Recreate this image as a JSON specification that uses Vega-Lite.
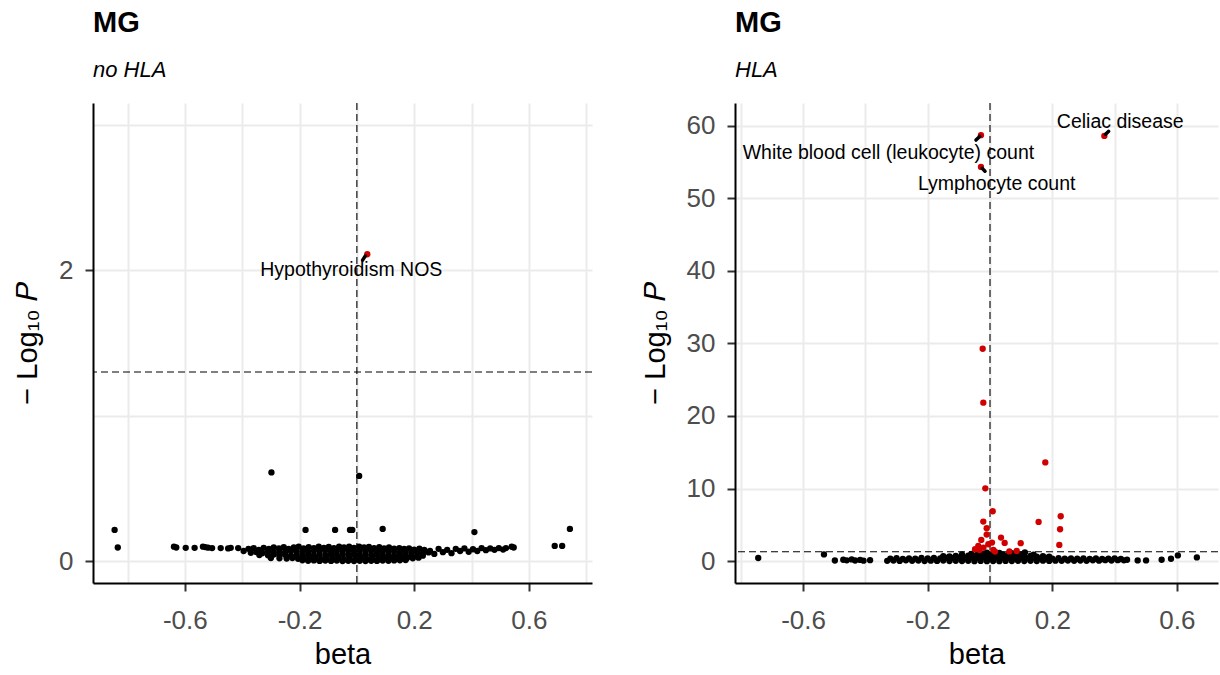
{
"$schema": "https://vega.github.io/schema/vega-lite/v6.json",
"padding": {"left": 13, "top": 9, "right": 0, "bottom": 0},
"spacing": 48,
"config": {
 "font": "Liberation Sans",
 "view": {"stroke": null},
 "title": {"anchor": "start", "frame": "group", "fontSize": 29, "fontWeight": "bold", "color": "black", "subtitleFontSize": 22, "subtitleFontStyle": "italic", "subtitleColor": "black", "subtitlePadding": 22, "offset": 21, "font": "Liberation Sans", "subtitleFont": "Liberation Sans"},
 "axis": {"domainColor": "black", "domainWidth": 2, "tickColor": "#333333", "tickWidth": 2, "tickSize": 8, "labelFontSize": 26, "labelColor": "#4D4D4D", "labelFont": "Liberation Sans", "titleFont": "Liberation Sans", "titleFontSize": 29, "titleFontWeight": "normal", "titleColor": "black", "gridColor": "#EBEBEB", "gridWidth": 2, "grid": true},
 "axisX": {"labelPadding": 16, "titlePadding": 7},
 "axisY": {"labelPadding": 12, "titlePadding": 16}
},
"datasets": {
 "L": [
  {"b":-0.845,"p":0.215,"g":"n"},{"b":-0.834,"p":0.094,"g":"n"},{"b":-0.298,"p":0.61,"g":"n"},{"b":0.008,"p":0.586,"g":"n"},{"b":-0.179,"p":0.215,"g":"n"},{"b":-0.076,"p":0.215,"g":"n"},{"b":-0.024,"p":0.215,"g":"n"},{"b":-0.016,"p":0.215,"g":"n"},{"b":0.09,"p":0.222,"g":"n"},{"b":0.41,"p":0.2,"g":"n"},{"b":0.743,"p":0.222,"g":"n"},{"b":0.69,"p":0.105,"g":"n"},{"b":0.716,"p":0.105,"g":"n"},{"b":0.547,"p":0.094,"g":"n"},{"b":0.54,"p":0.1,"g":"n"},
  {"b":-0.638,"p":0.1,"g":"n"},{"b":-0.63,"p":0.094,"g":"n"},{"b":-0.597,"p":0.092,"g":"n"},{"b":-0.566,"p":0.092,"g":"n"},{"b":-0.537,"p":0.1,"g":"n"},{"b":-0.529,"p":0.097,"g":"n"},{"b":-0.519,"p":0.093,"g":"n"},{"b":-0.505,"p":0.09,"g":"n"},{"b":-0.475,"p":0.09,"g":"n"},{"b":-0.449,"p":0.088,"g":"n"},{"b":-0.44,"p":0.092,"g":"n"},{"b":-0.414,"p":0.09,"g":"n"},
  {"b":-0.395,"p":0.07,"g":"n"},{"b":-0.378,"p":0.085,"g":"n"},{"b":-0.36,"p":0.09,"g":"n"},{"b":-0.342,"p":0.078,"g":"n"},{"b":-0.325,"p":0.092,"g":"n"},{"b":-0.307,"p":0.084,"g":"n"},{"b":-0.29,"p":0.095,"g":"n"},{"b":-0.272,"p":0.088,"g":"n"},{"b":-0.255,"p":0.096,"g":"n"},{"b":-0.238,"p":0.084,"g":"n"},{"b":-0.22,"p":0.094,"g":"n"},{"b":-0.203,"p":0.1,"g":"n"},{"b":-0.186,"p":0.088,"g":"n"},{"b":-0.168,"p":0.097,"g":"n"},{"b":-0.15,"p":0.09,"g":"n"},{"b":-0.133,"p":0.1,"g":"n"},{"b":-0.115,"p":0.092,"g":"n"},{"b":-0.098,"p":0.098,"g":"n"},{"b":-0.08,"p":0.09,"g":"n"},{"b":-0.062,"p":0.1,"g":"n"},{"b":-0.045,"p":0.094,"g":"n"},{"b":-0.027,"p":0.1,"g":"n"},{"b":-0.01,"p":0.092,"g":"n"},{"b":0.008,"p":0.1,"g":"n"},{"b":0.025,"p":0.094,"g":"n"},{"b":0.042,"p":0.098,"g":"n"},{"b":0.06,"p":0.09,"g":"n"},{"b":0.078,"p":0.096,"g":"n"},{"b":0.095,"p":0.088,"g":"n"},{"b":0.112,"p":0.094,"g":"n"},{"b":0.13,"p":0.086,"g":"n"},{"b":0.148,"p":0.09,"g":"n"},{"b":0.165,"p":0.084,"g":"n"},{"b":0.182,"p":0.088,"g":"n"},{"b":0.2,"p":0.08,"g":"n"},{"b":0.218,"p":0.086,"g":"n"},{"b":0.235,"p":0.078,"g":"n"},
  {"b":-0.37,"p":0.058,"g":"n"},{"b":-0.35,"p":0.062,"g":"n"},{"b":-0.33,"p":0.055,"g":"n"},{"b":-0.31,"p":0.066,"g":"n"},{"b":-0.29,"p":0.06,"g":"n"},{"b":-0.27,"p":0.068,"g":"n"},{"b":-0.25,"p":0.062,"g":"n"},{"b":-0.23,"p":0.07,"g":"n"},{"b":-0.21,"p":0.064,"g":"n"},{"b":-0.19,"p":0.07,"g":"n"},{"b":-0.17,"p":0.066,"g":"n"},{"b":-0.15,"p":0.072,"g":"n"},{"b":-0.13,"p":0.068,"g":"n"},{"b":-0.11,"p":0.074,"g":"n"},{"b":-0.09,"p":0.068,"g":"n"},{"b":-0.07,"p":0.072,"g":"n"},{"b":-0.05,"p":0.07,"g":"n"},{"b":-0.03,"p":0.074,"g":"n"},{"b":-0.01,"p":0.07,"g":"n"},{"b":0.01,"p":0.074,"g":"n"},{"b":0.03,"p":0.068,"g":"n"},{"b":0.05,"p":0.072,"g":"n"},{"b":0.07,"p":0.066,"g":"n"},{"b":0.09,"p":0.07,"g":"n"},{"b":0.11,"p":0.064,"g":"n"},{"b":0.13,"p":0.066,"g":"n"},{"b":0.15,"p":0.06,"g":"n"},{"b":0.17,"p":0.064,"g":"n"},{"b":0.19,"p":0.058,"g":"n"},{"b":0.21,"p":0.06,"g":"n"},{"b":0.23,"p":0.054,"g":"n"},{"b":0.25,"p":0.06,"g":"n"},
  {"b":-0.34,"p":0.042,"g":"n"},{"b":-0.31,"p":0.04,"g":"n"},{"b":-0.29,"p":0.046,"g":"n"},{"b":-0.27,"p":0.04,"g":"n"},{"b":-0.25,"p":0.044,"g":"n"},{"b":-0.23,"p":0.038,"g":"n"},{"b":-0.21,"p":0.044,"g":"n"},{"b":-0.19,"p":0.04,"g":"n"},{"b":-0.17,"p":0.046,"g":"n"},{"b":-0.15,"p":0.042,"g":"n"},{"b":-0.13,"p":0.046,"g":"n"},{"b":-0.11,"p":0.042,"g":"n"},{"b":-0.09,"p":0.048,"g":"n"},{"b":-0.07,"p":0.044,"g":"n"},{"b":-0.05,"p":0.048,"g":"n"},{"b":-0.03,"p":0.044,"g":"n"},{"b":-0.01,"p":0.048,"g":"n"},{"b":0.01,"p":0.044,"g":"n"},{"b":0.03,"p":0.048,"g":"n"},{"b":0.05,"p":0.042,"g":"n"},{"b":0.07,"p":0.046,"g":"n"},{"b":0.09,"p":0.04,"g":"n"},{"b":0.11,"p":0.044,"g":"n"},{"b":0.13,"p":0.038,"g":"n"},{"b":0.15,"p":0.042,"g":"n"},{"b":0.17,"p":0.036,"g":"n"},{"b":0.19,"p":0.04,"g":"n"},{"b":0.21,"p":0.034,"g":"n"},{"b":0.23,"p":0.038,"g":"n"},
  {"b":-0.3,"p":0.022,"g":"n"},{"b":-0.27,"p":0.02,"g":"n"},{"b":-0.245,"p":0.018,"g":"n"},{"b":-0.225,"p":0.022,"g":"n"},{"b":-0.205,"p":0.016,"g":"n"},{"b":-0.185,"p":0.02,"g":"n"},{"b":-0.165,"p":0.015,"g":"n"},{"b":-0.145,"p":0.02,"g":"n"},{"b":-0.125,"p":0.014,"g":"n"},{"b":-0.105,"p":0.02,"g":"n"},{"b":-0.085,"p":0.015,"g":"n"},{"b":-0.065,"p":0.02,"g":"n"},{"b":-0.045,"p":0.014,"g":"n"},{"b":-0.025,"p":0.02,"g":"n"},{"b":-0.005,"p":0.015,"g":"n"},{"b":0.015,"p":0.02,"g":"n"},{"b":0.035,"p":0.014,"g":"n"},{"b":0.055,"p":0.02,"g":"n"},{"b":0.075,"p":0.015,"g":"n"},{"b":0.095,"p":0.02,"g":"n"},{"b":0.115,"p":0.016,"g":"n"},{"b":0.135,"p":0.02,"g":"n"},{"b":0.155,"p":0.018,"g":"n"},{"b":0.175,"p":0.022,"g":"n"},{"b":0.195,"p":0.02,"g":"n"},{"b":0.215,"p":0.024,"g":"n"},
  {"b":-0.19,"p":0.006,"g":"n"},{"b":-0.17,"p":0.003,"g":"n"},{"b":-0.15,"p":0.005,"g":"n"},{"b":-0.13,"p":0.002,"g":"n"},{"b":-0.11,"p":0.004,"g":"n"},{"b":-0.09,"p":0.002,"g":"n"},{"b":-0.07,"p":0.004,"g":"n"},{"b":-0.05,"p":0.001,"g":"n"},{"b":-0.03,"p":0.003,"g":"n"},{"b":-0.01,"p":0.001,"g":"n"},{"b":0.01,"p":0.003,"g":"n"},{"b":0.03,"p":0.001,"g":"n"},{"b":0.05,"p":0.003,"g":"n"},{"b":0.07,"p":0.002,"g":"n"},{"b":0.09,"p":0.004,"g":"n"},{"b":0.11,"p":0.003,"g":"n"},{"b":0.13,"p":0.005,"g":"n"},{"b":0.15,"p":0.006,"g":"n"},{"b":0.17,"p":0.008,"g":"n"},
  {"b":0.255,"p":0.07,"g":"n"},{"b":0.27,"p":0.05,"g":"n"},{"b":0.285,"p":0.085,"g":"n"},{"b":0.3,"p":0.062,"g":"n"},{"b":0.315,"p":0.078,"g":"n"},{"b":0.33,"p":0.055,"g":"n"},{"b":0.345,"p":0.085,"g":"n"},{"b":0.36,"p":0.07,"g":"n"},{"b":0.375,"p":0.088,"g":"n"},{"b":0.39,"p":0.065,"g":"n"},{"b":0.405,"p":0.082,"g":"n"},{"b":0.42,"p":0.07,"g":"n"},{"b":0.435,"p":0.09,"g":"n"},{"b":0.45,"p":0.076,"g":"n"},{"b":0.465,"p":0.088,"g":"n"},{"b":0.48,"p":0.078,"g":"n"},{"b":0.495,"p":0.09,"g":"n"},{"b":0.51,"p":0.08,"g":"n"},{"b":0.52,"p":0.09,"g":"n"},
  {"b":0.0363,"p":2.11,"g":"s"}
 ],
 "R": [
  {"b":-0.744,"p":0.44,"g":"n"},{"b":-0.533,"p":0.94,"g":"n"},{"b":0.474,"p":0.11,"g":"n"},{"b":0.501,"p":0.11,"g":"n"},{"b":0.551,"p":0.2,"g":"n"},{"b":0.581,"p":0.34,"g":"n"},{"b":0.603,"p":0.8,"g":"n"},{"b":0.664,"p":0.52,"g":"n"},
  {"b":-0.498,"p":0.1,"g":"n"},{"b":-0.471,"p":0.2,"g":"n"},{"b":-0.46,"p":0.12,"g":"n"},{"b":-0.444,"p":0.25,"g":"n"},{"b":-0.433,"p":0.1,"g":"n"},{"b":-0.417,"p":0.18,"g":"n"},{"b":-0.406,"p":0.08,"g":"n"},{"b":-0.385,"p":0.15,"g":"n"},
  {"b":-0.33,"p":0.05,"g":"n"},{"b":-0.31,"p":0.1,"g":"n"},{"b":-0.29,"p":0.04,"g":"n"},{"b":-0.27,"p":0.12,"g":"n"},{"b":-0.25,"p":0.05,"g":"n"},{"b":-0.23,"p":0.1,"g":"n"},{"b":-0.21,"p":0.03,"g":"n"},{"b":-0.19,"p":0.08,"g":"n"},{"b":-0.17,"p":0.04,"g":"n"},{"b":-0.15,"p":0.1,"g":"n"},{"b":-0.13,"p":0.02,"g":"n"},{"b":-0.11,"p":0.06,"g":"n"},{"b":-0.09,"p":0.02,"g":"n"},{"b":-0.07,"p":0.05,"g":"n"},{"b":-0.05,"p":0.01,"g":"n"},{"b":-0.03,"p":0.04,"g":"n"},{"b":-0.01,"p":0.01,"g":"n"},{"b":0.01,"p":0.03,"g":"n"},{"b":0.03,"p":0.01,"g":"n"},{"b":0.05,"p":0.04,"g":"n"},{"b":0.07,"p":0.02,"g":"n"},{"b":0.09,"p":0.05,"g":"n"},{"b":0.11,"p":0.02,"g":"n"},{"b":0.13,"p":0.06,"g":"n"},{"b":0.15,"p":0.03,"g":"n"},{"b":0.17,"p":0.07,"g":"n"},{"b":0.19,"p":0.04,"g":"n"},{"b":0.21,"p":0.08,"g":"n"},{"b":0.23,"p":0.05,"g":"n"},{"b":0.25,"p":0.1,"g":"n"},{"b":0.27,"p":0.06,"g":"n"},{"b":0.29,"p":0.1,"g":"n"},{"b":0.31,"p":0.05,"g":"n"},{"b":0.33,"p":0.12,"g":"n"},{"b":0.35,"p":0.08,"g":"n"},{"b":0.37,"p":0.14,"g":"n"},{"b":0.39,"p":0.1,"g":"n"},{"b":0.41,"p":0.15,"g":"n"},{"b":0.43,"p":0.12,"g":"n"},{"b":0.44,"p":0.2,"g":"n"},
  {"b":-0.32,"p":0.35,"g":"n"},{"b":-0.3,"p":0.42,"g":"n"},{"b":-0.28,"p":0.33,"g":"n"},{"b":-0.26,"p":0.4,"g":"n"},{"b":-0.24,"p":0.36,"g":"n"},{"b":-0.22,"p":0.44,"g":"n"},{"b":-0.2,"p":0.38,"g":"n"},{"b":-0.18,"p":0.45,"g":"n"},{"b":-0.16,"p":0.4,"g":"n"},{"b":-0.14,"p":0.46,"g":"n"},{"b":-0.12,"p":0.42,"g":"n"},{"b":-0.1,"p":0.48,"g":"n"},{"b":-0.08,"p":0.44,"g":"n"},{"b":-0.06,"p":0.5,"g":"n"},{"b":-0.04,"p":0.45,"g":"n"},{"b":-0.02,"p":0.5,"g":"n"},{"b":0.0,"p":0.46,"g":"n"},{"b":0.02,"p":0.5,"g":"n"},{"b":0.04,"p":0.44,"g":"n"},{"b":0.06,"p":0.48,"g":"n"},{"b":0.08,"p":0.42,"g":"n"},{"b":0.1,"p":0.47,"g":"n"},{"b":0.12,"p":0.4,"g":"n"},{"b":0.14,"p":0.45,"g":"n"},{"b":0.16,"p":0.38,"g":"n"},{"b":0.18,"p":0.44,"g":"n"},{"b":0.2,"p":0.36,"g":"n"},{"b":0.22,"p":0.42,"g":"n"},{"b":0.24,"p":0.35,"g":"n"},{"b":0.26,"p":0.4,"g":"n"},{"b":0.28,"p":0.34,"g":"n"},{"b":0.3,"p":0.38,"g":"n"},{"b":0.32,"p":0.33,"g":"n"},{"b":0.34,"p":0.37,"g":"n"},{"b":0.36,"p":0.3,"g":"n"},{"b":0.38,"p":0.35,"g":"n"},{"b":0.4,"p":0.4,"g":"n"},{"b":0.42,"p":0.3,"g":"n"},
  {"b":-0.15,"p":0.7,"g":"n"},{"b":-0.13,"p":0.65,"g":"n"},{"b":-0.11,"p":0.72,"g":"n"},{"b":-0.09,"p":0.68,"g":"n"},{"b":-0.07,"p":0.75,"g":"n"},{"b":-0.05,"p":0.7,"g":"n"},{"b":-0.03,"p":0.78,"g":"n"},{"b":-0.01,"p":0.72,"g":"n"},{"b":0.01,"p":0.78,"g":"n"},{"b":0.03,"p":0.7,"g":"n"},{"b":0.05,"p":0.76,"g":"n"},{"b":0.07,"p":0.68,"g":"n"},{"b":0.09,"p":0.74,"g":"n"},{"b":0.11,"p":0.66,"g":"n"},{"b":0.13,"p":0.72,"g":"n"},{"b":0.15,"p":0.64,"g":"n"},{"b":0.17,"p":0.7,"g":"n"},{"b":0.19,"p":0.62,"g":"n"},
  {"b":-0.09,"p":0.95,"g":"n"},{"b":-0.06,"p":1.0,"g":"n"},{"b":-0.04,"p":0.92,"g":"n"},{"b":-0.02,"p":1.05,"g":"n"},{"b":0.0,"p":0.95,"g":"n"},{"b":0.02,"p":1.02,"g":"n"},{"b":0.04,"p":0.94,"g":"n"},{"b":0.06,"p":1.0,"g":"n"},{"b":0.08,"p":0.92,"g":"n"},{"b":0.1,"p":0.98,"g":"n"},{"b":0.112,"p":1.2,"g":"n"},{"b":0.14,"p":0.9,"g":"n"},{"b":-0.01,"p":1.18,"g":"n"},{"b":0.03,"p":1.15,"g":"n"},{"b":0.07,"p":1.12,"g":"n"},
  {"b":-0.0235,"p":29.26,"g":"s"},{"b":-0.0215,"p":21.83,"g":"s"},{"b":0.1775,"p":13.6,"g":"s"},{"b":-0.015,"p":10.04,"g":"s"},{"b":0.0087,"p":6.88,"g":"s"},{"b":-0.0215,"p":5.46,"g":"s"},{"b":0.156,"p":5.41,"g":"s"},{"b":0.227,"p":6.19,"g":"s"},{"b":0.225,"p":4.4,"g":"s"},{"b":0.2225,"p":2.24,"g":"s"},{"b":-0.0107,"p":4.54,"g":"s"},{"b":-0.0107,"p":3.67,"g":"s"},{"b":-0.028,"p":2.93,"g":"s"},{"b":0.0353,"p":3.26,"g":"s"},{"b":0.047,"p":2.52,"g":"s"},{"b":0.0985,"p":2.48,"g":"s"},{"b":0.0064,"p":2.57,"g":"s"},{"b":-0.0054,"p":2.34,"g":"s"},{"b":-0.0376,"p":2.1,"g":"s"},{"b":-0.048,"p":1.65,"g":"s"},{"b":-0.034,"p":1.55,"g":"s"},{"b":-0.021,"p":1.88,"g":"s"},{"b":0.0107,"p":1.55,"g":"s"},{"b":0.062,"p":1.35,"g":"s"},{"b":0.0857,"p":1.42,"g":"s"},{"b":0.016,"p":1.33,"g":"s"},
  {"b":-0.029,"p":58.67,"g":"s"},{"b":-0.029,"p":54.3,"g":"s"},{"b":0.367,"p":58.57,"g":"s"}
 ],
 "LA": [{"b":0.02,"p":2.07,"b2":0.0293,"p2":2.098}],
 "RA": [{"b":-0.045,"p":58.0,"b2":-0.033,"p2":58.5},{"b":-0.016,"p":53.7,"b2":-0.025,"p2":54.1},{"b":0.381,"p":59.2,"b2":0.371,"p2":58.8}],
 "LT": [{"b":-0.0195,"p":2.0,"t":"Hypothyroidism NOS"}],
 "RT": [{"b":0.418,"p":60.5,"t":"Celiac disease"},{"b":-0.326,"p":56.25,"t":"White blood cell (leukocyte) count"},{"b":0.0215,"p":52.0,"t":"Lymphocyte count"}]
},
"hconcat": [
 {
  "width": 499, "height": 480,
  "title": {"text": "MG", "subtitle": "no HLA"},
  "layer": [
   {"data": {"values": [{}]}, "mark": {"type": "rule", "strokeDash": [7,4], "strokeWidth": 1.1, "color": "black"}, "encoding": {"x": {"datum": 0, "type": "quantitative", "title": "beta"}}},
   {"data": {"values": [{}]}, "mark": {"type": "rule", "strokeDash": [7,4], "strokeWidth": 1.1, "color": "black"}, "encoding": {"y": {"datum": 1.301, "type": "quantitative", "title": "− Log₁₀ 𝑃"}}},
   {"data": {"name": "L"}, "mark": {"type": "circle", "size": 40, "opacity": 1},
    "encoding": {
     "x": {"field": "b", "type": "quantitative", "title": "beta", "scale": {"domain": [-0.9204, 0.8201], "nice": false, "zero": false},
      "axis": {"values": [-0.8,-0.6,-0.4,-0.2,0,0.2,0.4,0.6,0.8], "format": ".1f", "labelExpr": "indexof([-0.6,-0.2,0.2,0.6], datum.value) >= 0 ? replace(datum.label, '−', '-') : ''", "tickOpacity": {"condition": {"test": "indexof([-0.6,-0.2,0.2,0.6], datum.value) < 0", "value": 0}, "value": 1}}},
     "y": {"field": "p", "type": "quantitative", "title": "− Log₁₀ 𝑃", "scale": {"domain": [-0.15, 3.15], "nice": false, "zero": false},
      "axis": {"values": [0,1,2,3], "format": "d", "labelExpr": "datum.value % 2 == 0 ? datum.label : ''", "tickOpacity": {"condition": {"test": "datum.value % 2 != 0", "value": 0}, "value": 1}}},
     "color": {"field": "g", "type": "nominal", "scale": {"domain": ["n","s"], "range": ["#000000","#d10000"]}, "legend": null}
    }},
   {"data": {"name": "LA"}, "mark": {"type": "rule", "strokeWidth": 3.5, "strokeCap": "round", "color": "black"},
    "encoding": {"x": {"field": "b", "type": "quantitative", "title": "beta"}, "y": {"field": "p", "type": "quantitative", "title": "− Log₁₀ 𝑃"}, "x2": {"field": "b2"}, "y2": {"field": "p2"}}},
   {"data": {"name": "LT"}, "mark": {"type": "text", "fontSize": 19.5, "font": "Liberation Sans", "align": "center", "baseline": "middle", "color": "black"},
    "encoding": {"x": {"field": "b", "type": "quantitative", "title": "beta"}, "y": {"field": "p", "type": "quantitative", "title": "− Log₁₀ 𝑃"}, "text": {"field": "t"}}}
  ]
 },
 {
  "width": 483, "height": 480,
  "title": {"text": "MG", "subtitle": "HLA"},
  "layer": [
   {"data": {"values": [{}]}, "mark": {"type": "rule", "strokeDash": [7,4], "strokeWidth": 1.1, "color": "black"}, "encoding": {"x": {"datum": 0, "type": "quantitative", "title": "beta"}}},
   {"data": {"values": [{}]}, "mark": {"type": "rule", "strokeDash": [7,4], "strokeWidth": 1.1, "color": "black"}, "encoding": {"y": {"datum": 1.301, "type": "quantitative", "title": "− Log₁₀ 𝑃"}}},
   {"data": {"name": "R"}, "mark": {"type": "circle", "size": 40, "opacity": 1},
    "encoding": {
     "x": {"field": "b", "type": "quantitative", "title": "beta", "scale": {"domain": [-0.8186, 0.7319], "nice": false, "zero": false},
      "axis": {"values": [-0.8,-0.6,-0.4,-0.2,0,0.2,0.4,0.6], "format": ".1f", "labelExpr": "indexof([-0.6,-0.2,0.2,0.6], datum.value) >= 0 ? replace(datum.label, '−', '-') : ''", "tickOpacity": {"condition": {"test": "indexof([-0.6,-0.2,0.2,0.6], datum.value) < 0", "value": 0}, "value": 1}}},
     "y": {"field": "p", "type": "quantitative", "title": "− Log₁₀ 𝑃", "scale": {"domain": [-3, 63.1], "nice": false, "zero": false},
      "axis": {"values": [0,5,10,15,20,25,30,35,40,45,50,55,60], "labelExpr": "datum.value % 10 == 0 ? datum.label : ''", "tickOpacity": {"condition": {"test": "datum.value % 10 != 0", "value": 0}, "value": 1}}},
     "color": {"field": "g", "type": "nominal", "scale": {"domain": ["n","s"], "range": ["#000000","#d10000"]}, "legend": null}
    }},
   {"data": {"name": "RA"}, "mark": {"type": "rule", "strokeWidth": 3.5, "strokeCap": "round", "color": "black"},
    "encoding": {"x": {"field": "b", "type": "quantitative", "title": "beta"}, "y": {"field": "p", "type": "quantitative", "title": "− Log₁₀ 𝑃"}, "x2": {"field": "b2"}, "y2": {"field": "p2"}}},
   {"data": {"name": "RT"}, "mark": {"type": "text", "fontSize": 19.5, "font": "Liberation Sans", "align": "center", "baseline": "middle", "color": "black"},
    "encoding": {"x": {"field": "b", "type": "quantitative", "title": "beta"}, "y": {"field": "p", "type": "quantitative", "title": "− Log₁₀ 𝑃"}, "text": {"field": "t"}}}
  ]
 }
]
}
